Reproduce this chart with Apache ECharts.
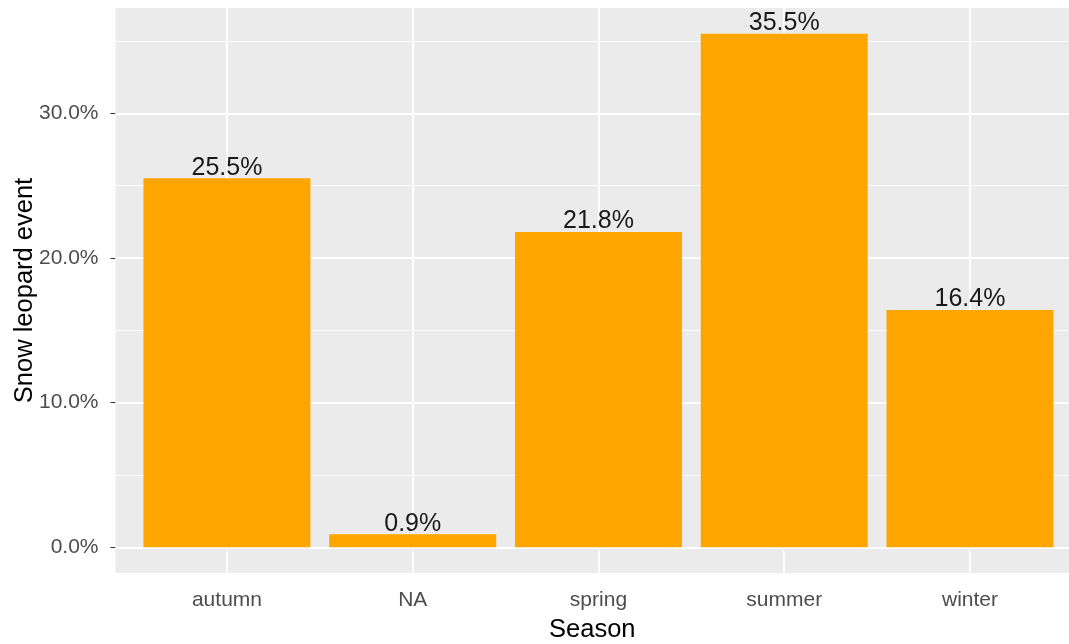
<!DOCTYPE html>
<html>
<head>
<meta charset="utf-8">
<script src="https://cdn.jsdelivr.net/npm/echarts@6/dist/echarts.min.js"></script>
<style>
  html, body { margin: 0; padding: 0; background: #fff; }
  #chart { width: 1069px; height: 644px; }
</style>
</head>
<body>
<div id="chart"></div>
<script>
// share of snow leopard events per season (percent)
const seasons = ["autumn", "NA", "spring", "summer", "winter"];
const shares = [25.5, 0.9, 21.8, 35.5, 16.4];
const yMajor = [0, 10, 20, 30];
const yMinor = [5, 15, 25, 35];

const chart = echarts.init(document.getElementById("chart"));
const FONT = "Liberation Sans, Arial, sans-serif";

// ggplot-ish expansion: 0.6 units on discrete x, 5% on y.
// the source image is cropped on the right, so the panel stops a bit early
const xMin = 0.4;
const xMax = 5.533;
const yMax = Math.max(...shares);
const yPad = yMax * 0.05;

const gridWhite = (w) => ({ color: "#ffffff", width: w, type: "solid" });

chart.setOption({
  backgroundColor: "#ffffff",
  animation: false,
  grid: {
    left: 115.5,
    top: 8,
    right: 0,
    height: 565,
    outerBoundsMode: "none",
    show: true,
    backgroundColor: "#EBEBEB",
    borderWidth: 0,
  },
  xAxis: {
    type: "value",
    min: xMin,
    max: xMax,
    name: "Season",
    nameLocation: "middle",
    nameGap: 44,
    nameMoveOverlap: false,
    nameTextStyle: { color: "#000", fontSize: 25.5, fontFamily: FONT },
    axisLine: { show: false },
    axisTick: {
      show: true,
      length: 5,
      lineStyle: { color: "#333333", width: 1 },
      customValues: seasons.map((s, i) => i + 1),
    },
    axisLabel: {
      color: "#4D4D4D",
      fontSize: 21,
      fontFamily: FONT,
      margin: 17,
      customValues: seasons.map((s, i) => i + 1),
      formatter: (v) => seasons[Math.round(v) - 1] || "",
    },
    splitLine: { show: false },
  },
  yAxis: {
    type: "value",
    min: -yPad,
    max: yMax + yPad,
    name: "Snow leopard event",
    nameLocation: "middle",
    nameGap: 78,
    nameMoveOverlap: false,
    nameRotate: 90,
    nameTextStyle: { color: "#000", fontSize: 25.5, fontFamily: FONT },
    axisLine: { show: false },
    axisTick: {
      show: true,
      length: 5,
      lineStyle: { color: "#333333", width: 1 },
      customValues: yMajor,
    },
    axisLabel: {
      color: "#4D4D4D",
      fontSize: 21,
      fontFamily: FONT,
      margin: 17,
      customValues: yMajor,
      formatter: (v) => v.toFixed(1) + "%",
    },
    splitLine: { show: false },
  },
  series: [
    {
      // gridlines live in an empty series drawn under the bars
      type: "line",
      data: [],
      z: 1,
      silent: true,
      markLine: {
        z: 1,
        silent: true,
        symbol: "none",
        label: { show: false },
        animation: false,
        data: [
          ...yMinor.map((v) => ({ yAxis: v, lineStyle: gridWhite(0.9) })),
          ...yMajor.map((v) => ({ yAxis: v, lineStyle: gridWhite(1.8) })),
          ...seasons.map((s, i) => ({ xAxis: i + 1, lineStyle: gridWhite(1.8) })),
        ],
      },
    },
    {
      name: "Share",
      type: "bar",
      z: 3,
      barWidth: 167,
      itemStyle: { color: "#FFA500" },
      label: {
        show: true,
        position: "top",
        distance: -2,
        color: "#1A1A1A",
        fontSize: 25,
        fontFamily: FONT,
        formatter: (p) => p.value[1].toFixed(1) + "%",
      },
      data: shares.map((v, i) => [i + 1, v]),
    },
  ],
});

window.addEventListener("resize", () => chart.resize());
</script>
</body>
</html>
